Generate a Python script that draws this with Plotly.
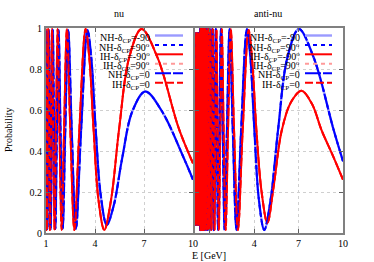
import plotly.graph_objects as go

W, H = 374, 262

# ---- data: (E [GeV], probability) pairs ----
nu_IH = [(10.0, 0.34), (9.13, 0.51), (7.83, 0.855), (6.85, 0.995), (6.09, 0.855), (5.48, 0.51),
         (4.98, 0.16), (4.57, 0.015), (4.215, 0.16), (3.914, 0.505), (3.653, 0.855), (3.425, 0.995),
         (3.044, 0.505), (2.74, 0.015), (2.491, 0.505), (2.283, 0.995), (2.108, 0.505), (1.957, 0.015),
         (1.827, 0.505), (1.7125, 0.995), (1.612, 0.505), (1.522, 0.015), (1.442, 0.505), (1.37, 0.995),
         (1.305, 0.505), (1.245, 0.015), (1.191, 0.505), (1.142, 0.995), (1.096, 0.505), (1.054, 0.015),
         (1.015, 0.505), (0.979, 0.995), (0.945, 0.505)]

nu_NH = [(10.0, 0.26), (9.44, 0.365), (8.09, 0.595), (7.08, 0.69), (6.293, 0.595), (5.664, 0.365),
         (5.149, 0.135), (4.72, 0.04), (4.357, 0.18), (4.046, 0.5), (3.776, 0.85), (3.54, 0.99),
         (3.147, 0.5), (2.832, 0.02), (2.575, 0.5), (2.36, 0.99), (2.178, 0.5), (2.023, 0.02),
         (1.888, 0.5), (1.77, 0.99), (1.666, 0.5), (1.573, 0.02), (1.491, 0.5), (1.416, 0.99),
         (1.349, 0.5), (1.287, 0.02), (1.231, 0.5), (1.18, 0.99), (1.133, 0.5), (1.089, 0.02),
         (1.049, 0.5), (1.011, 0.99), (0.977, 0.5), (0.944, 0.02)]

anti_NH = [(10.0, 0.35), (9.36, 0.505), (8.023, 0.855), (7.02, 0.995), (6.24, 0.855), (5.616, 0.505),
           (5.105, 0.16), (4.68, 0.015), (4.32, 0.16), (4.011, 0.505), (3.744, 0.855), (3.51, 0.995),
           (3.12, 0.505), (2.808, 0.015), (2.553, 0.505), (2.34, 0.995), (2.16, 0.505), (2.006, 0.015),
           (1.872, 0.505), (1.755, 0.995), (1.652, 0.505), (1.56, 0.015), (1.478, 0.505), (1.404, 0.995),
           (1.337, 0.505), (1.276, 0.015), (1.221, 0.505), (1.17, 0.995), (1.123, 0.505), (1.08, 0.015),
           (1.04, 0.505), (1.003, 0.995),
           (0.936, 0.015), (0.8775, 0.995), (0.826, 0.015), (0.78, 0.995), (0.739, 0.015), (0.702, 0.995),
           (0.669, 0.015), (0.638, 0.995), (0.61, 0.015), (0.585, 0.995), (0.562, 0.015), (0.54, 0.995),
           (0.52, 0.015), (0.501, 0.995), (0.484, 0.015), (0.468, 0.995), (0.453, 0.015), (0.439, 0.995),
           (0.425, 0.015), (0.413, 0.995), (0.401, 0.015), (0.39, 0.995), (0.379, 0.015), (0.369, 0.995),
           (0.36, 0.015), (0.351, 0.995),
           (0.33, 0.04), (0.31, 0.975), (0.29, 0.04), (0.27, 0.975), (0.25, 0.04), (0.23, 0.975),
           (0.21, 0.04), (0.19, 0.975), (0.17, 0.04), (0.15, 0.975), (0.13, 0.04), (0.11, 0.975),
           (0.09, 0.04), (0.07, 0.975), (0.05, 0.04), (0.03, 0.975)]

anti_IH = [(10.0, 0.26), (9.3, 0.38), (8.56, 0.5), (7.9, 0.63), (7.2, 0.694), (6.5, 0.64),
           (5.86, 0.5), (5.3, 0.22), (4.89, 0.05), (4.5, 0.2), (4.15, 0.5), (3.86, 0.84), (3.625, 0.99),
           (3.222, 0.505), (2.9, 0.015), (2.636, 0.505), (2.417, 0.995), (2.231, 0.505), (2.071, 0.015),
           (1.933, 0.505), (1.8125, 0.995), (1.706, 0.505), (1.611, 0.015), (1.526, 0.505), (1.45, 0.995),
           (1.381, 0.505), (1.318, 0.015), (1.261, 0.505), (1.208, 0.995), (1.16, 0.505), (1.115, 0.015),
           (1.074, 0.505), (1.036, 0.995),
           (0.967, 0.015), (0.906, 0.995), (0.853, 0.015), (0.806, 0.995), (0.763, 0.015), (0.725, 0.995),
           (0.69, 0.015), (0.659, 0.995), (0.63, 0.015), (0.604, 0.995), (0.58, 0.015), (0.558, 0.995),
           (0.537, 0.015), (0.518, 0.995), (0.5, 0.015), (0.483, 0.995), (0.468, 0.015), (0.453, 0.995),
           (0.439, 0.015), (0.426, 0.995), (0.414, 0.015), (0.403, 0.995), (0.392, 0.015), (0.382, 0.995),
           (0.372, 0.015), (0.3625, 0.995),
           (0.34, 0.04), (0.32, 0.975), (0.30, 0.04), (0.28, 0.975), (0.26, 0.04), (0.24, 0.975),
           (0.22, 0.04), (0.20, 0.975), (0.18, 0.04), (0.16, 0.975), (0.14, 0.04), (0.12, 0.975),
           (0.10, 0.04), (0.08, 0.975), (0.06, 0.04), (0.04, 0.975)]

panel_titles = ["nu", "anti-nu"]
legend_labels = ["NH-δ<sub>CP</sub>=-90",
                 "NH-δ<sub>CP</sub>=90<sup>o</sup>",
                 "IH-δ<sub>CP</sub>=-90<sup>o</sup>",
                 "IH-δ<sub>CP</sub>=90<sup>o</sup>",
                 "NH-δ<sub>CP</sub>=0",
                 "IH-δ<sub>CP</sub>=0"]
x_ticks_left = [1, 4, 7, 10]
x_ticks_right = [1, 4, 7, 10]
x_text_right = ["", "4", "7", "10"]
y_ticks = [0, 0.2, 0.4, 0.6, 0.8, 1]
y_text = ["0", "0.2", "0.4", "0.6", "0.8", "1"]

# ---- styles (hierarchy, colour, dash, width) in legend order ----
styles = [("NH", "#9a9aff", "solid", 2.4),
          ("NH", "#0000ff", "4px,4px", 2),
          ("IH", "#ff0000", "solid", 2),
          ("IH", "#ff9a9a", "4px,4px", 2),
          ("NH", "#0000ff", "16px,2px", 2),
          ("IH", "#ff0000", "8px,3px", 2)]
draw_order = [0, 3, 2, 1, 4, 5]   # light curves underneath the dark ones

FONT = "Liberation Serif"


def unzip(pairs):
    return [p[0] for p in pairs], [p[1] for p in pairs]


fig = go.Figure()
panels = [({"NH": nu_NH, "IH": nu_IH}, "x", "y"),
          ({"NH": anti_NH, "IH": anti_IH}, "x2", "y2")]
for data, xa, ya in panels:
    for i in draw_order:
        hier, col, dash, w = styles[i]
        xs, ys = unzip(data[hier])
        fig.add_trace(go.Scatter(x=xs, y=ys, mode="lines", xaxis=xa, yaxis=ya,
                                 line=dict(color=col, dash=dash, width=w, shape="spline"),
                                 name=legend_labels[i], showlegend=False, hoverinfo="skip"))


def px(x):
    return x / W


def py(y):
    return 1 - y / H


ydom = [py(233), py(28)]
axis_common = dict(showline=True, linecolor="#808080", linewidth=2, mirror="allticks",
                   ticks="inside", ticklen=4, tickcolor="#606060", tickwidth=1,
                   showgrid=True, gridcolor="#cfcfcf", griddash="dot", gridwidth=1,
                   zeroline=False, automargin=False,
                   tickfont=dict(family=FONT, size=10, color="black"))

fig.update_layout(
    width=W, height=H, margin=dict(l=0, r=0, t=0, b=0, pad=0, autoexpand=False),
    paper_bgcolor="white", plot_bgcolor="white", showlegend=False,
    font=dict(family=FONT, size=10, color="black"),
    xaxis=dict(domain=[px(46), px(193)], range=[1, 10], tickvals=x_ticks_left,
               ticktext=[str(v) for v in x_ticks_left], anchor="y", **axis_common),
    yaxis=dict(domain=ydom, range=[0, 1], tickvals=y_ticks, ticktext=y_text,
               anchor="x", **axis_common),
    xaxis2=dict(domain=[px(195), px(343)], range=[0, 10], tickvals=x_ticks_right,
                ticktext=x_text_right, anchor="y2", **axis_common),
    yaxis2=dict(domain=ydom, range=[0, 1], tickvals=y_ticks, showticklabels=False,
                anchor="x2", **axis_common),
)


def label(x, y, text, **kw):
    fig.add_annotation(x=px(x), y=py(y), xref="paper", yref="paper", text=text,
                       showarrow=False, font=dict(family=FONT, size=10),
                       xanchor=kw.pop("xanchor", "center"), yanchor="middle", **kw)


# panel titles and axis titles
label(119, 14, panel_titles[0])
label(268, 14, panel_titles[1])
label(8, 130, "Probability", textangle=-90)
label(209, 255, "E [GeV]")

# gnuplot-style keys (text right-aligned, sample to the right)
rows = [35.5, 45, 54.3, 63.7, 73.3, 82.7]
keys = [(152, 155, 183), (302, 305, 332)]
for tx, s0, s1 in keys:
    for (hier, col, dash, w), lab, ry in zip(styles, legend_labels, rows):
        label(tx, ry + 2.5, lab, xanchor="right")
        fig.add_shape(type="line", xref="paper", yref="paper", x0=px(s0), x1=px(s1),
                      y0=py(ry), y1=py(ry), line=dict(color=col, dash=dash, width=w))

fig.write_html("out.html", config={"displayModeBar": False, "staticPlot": True},
               post_script="document.body.style.margin='0px';document.body.style.overflow='hidden';")
